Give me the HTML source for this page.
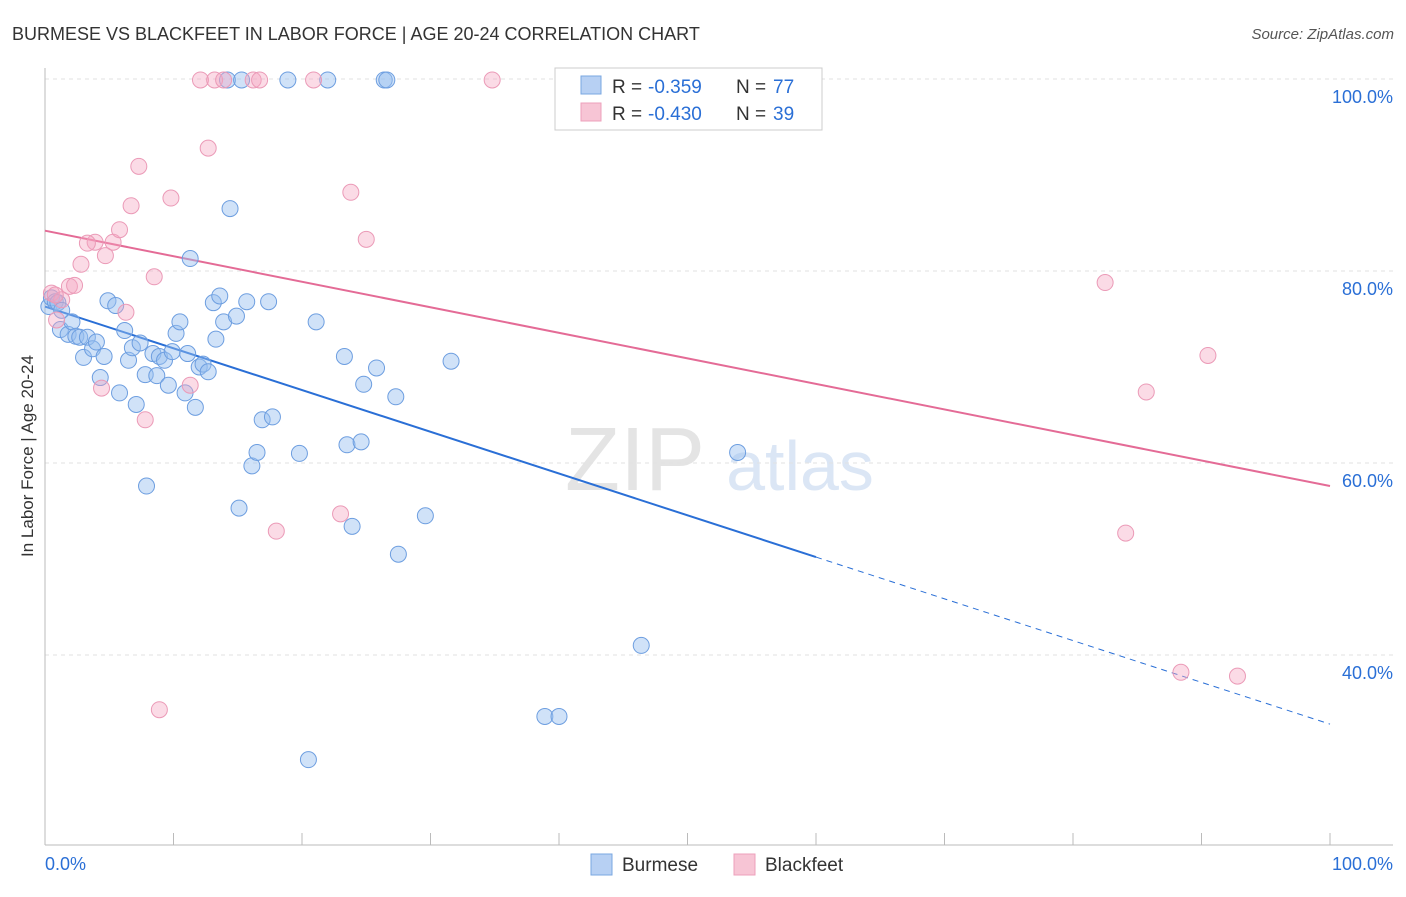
<!DOCTYPE html>
<html><head><meta charset="utf-8"><style>
body{margin:0;background:#fff;font-family:"Liberation Sans",sans-serif;}
svg text{font-family:"Liberation Sans",sans-serif;}
</style></head><body>
<svg id="chart" width="1406" height="892" xmlns="http://www.w3.org/2000/svg">
<text x="12" y="40" font-size="18" fill="#333">BURMESE VS BLACKFEET IN LABOR FORCE | AGE 20-24 CORRELATION CHART</text>
<text x="1394" y="39" font-size="15" fill="#555" font-style="italic" text-anchor="end">Source: ZipAtlas.com</text>
<text transform="translate(33,456) rotate(-90)" font-size="17" fill="#333" text-anchor="middle">In Labor Force | Age 20-24</text>
<g><text x="635" y="490" font-size="90" fill="#e4e4e4" font-family="Liberation Serif" text-anchor="middle">ZIP</text><text x="800" y="490" font-size="70" fill="#dbe6f5" text-anchor="middle">atlas</text></g>
<g id="grid"></g><g id="axes"></g><g id="lines"></g><g id="pts"></g>
<g>
<rect x="555" y="68" width="267" height="62" fill="#fff" stroke="#ccc"/>
<rect x="581" y="76" width="20" height="18" fill="#b7d0f3" stroke="#7aa7e0"/>
<rect x="581" y="103" width="20" height="18" fill="#f7c5d5" stroke="#eea0bb"/>
<text x="612" y="93" font-size="19" fill="#333">R = </text><text x="648" y="93" font-size="19" fill="#2a6fd6">-0.359</text>
<text x="736" y="93" font-size="19" fill="#333">N = </text><text x="773" y="93" font-size="19" fill="#2a6fd6">77</text>
<text x="612" y="120" font-size="19" fill="#333">R = </text><text x="648" y="120" font-size="19" fill="#2a6fd6">-0.430</text>
<text x="736" y="120" font-size="19" fill="#333">N = </text><text x="773" y="120" font-size="19" fill="#2a6fd6">39</text>
</g>
<g>
<rect x="591" y="854" width="21" height="21" fill="#b7d0f3" stroke="#7aa7e0"/><text x="622" y="871" font-size="19" fill="#333">Burmese</text>
<rect x="734" y="854" width="21" height="21" fill="#f7c5d5" stroke="#eea0bb"/><text x="765" y="871" font-size="19" fill="#333">Blackfeet</text>
</g>
<text x="45" y="870" font-size="18" fill="#2a6fd6">0.0%</text>
<text x="1393" y="870" font-size="18" fill="#2a6fd6" text-anchor="end">100.0%</text>
</svg>
<script>
const yTicks=[100,80,60,40];
const burmeseX=[0.3,0.5,0.8,1.0,1.3,1.2,1.8,2.1,2.4,2.7,3.0,3.3,3.7,4.0,4.3,4.6,4.9,5.5,5.8,6.2,6.5,6.8,7.1,7.4,7.8,7.9,8.4,8.7,8.9,9.3,9.6,9.9,10.2,10.5,10.9,11.1,11.3,11.7,12.0,12.3,12.7,13.1,13.3,13.6,13.9,14.4,14.9,15.1,15.7,16.1,16.5,16.9,17.4,17.7,19.8,21.1,23.3,23.5,23.9,24.6,24.8,25.8,27.3,27.5,29.6,31.6,20.5,38.9,40.0,46.4,53.9,14.2,15.3,18.9,22.0,26.4,26.6];
const burmeseY=[76.3,77.2,76.8,76.7,75.9,73.9,73.4,74.7,73.2,73.1,71.0,73.1,71.9,72.6,68.9,71.1,76.9,76.4,67.3,73.8,70.7,72.0,66.1,72.5,69.2,57.6,71.4,69.1,71.1,70.7,68.1,71.6,73.5,74.7,67.3,71.4,81.3,65.8,70.0,70.3,69.5,76.7,72.9,77.4,74.7,86.5,75.3,55.3,76.8,59.7,61.1,64.5,76.8,64.8,61.0,74.7,71.1,61.9,53.4,62.2,68.2,69.9,66.9,50.5,54.5,70.6,29.1,33.6,33.6,41.0,61.1,99.9,99.9,99.9,99.9,99.9,99.9];
const blackX=[0.5,0.9,1.3,1.9,2.3,2.8,3.9,4.4,4.7,5.3,5.8,6.3,6.7,7.3,7.8,8.5,8.9,9.8,11.3,12.7,12.1,13.2,13.9,16.2,16.7,18.0,20.9,23.0,23.8,25.0,34.8,82.5,85.7,90.5,84.1,88.4,92.8,3.3,0.8];
const blackY=[77.7,74.9,77.0,78.4,78.5,80.7,83.0,67.8,81.6,83.0,84.3,75.7,86.8,90.9,64.5,79.4,34.3,87.6,68.1,92.8,99.9,99.9,99.9,99.9,99.9,52.9,99.9,54.7,88.2,83.3,99.9,78.8,67.4,71.2,52.7,38.2,37.8,82.9,77.5];
const burmeseTrend=[76.3,32.8];
const blackTrend=[84.2,57.6];
const burmeseSolidEnd=60;
const NS='http://www.w3.org/2000/svg';
const X=v=>45+v*12.85, Y=v=>79+(100-v)*9.6;
function mk(t,a,p){const e=document.createElementNS(NS,t);for(const k in a)e.setAttribute(k,a[k]);p.appendChild(e);return e;}
const grid=document.getElementById('grid');
yTicks.forEach(t=>{
 const l=mk('line',{x1:45,x2:1393,y1:Y(t),y2:Y(t),stroke:'#e2e2e2','stroke-dasharray':'4,4'},grid);
 
 
 const tx=mk('text',{x:1393,y:Y(t)+24,'font-size':18,fill:'#2a6fd6','text-anchor':'end'},grid);
 tx.textContent=t.toFixed(1)+'%';
 
 
});
const ax=document.getElementById('axes');
mk('line',{x1:45,x2:45,y1:68,y2:845,stroke:'#bbb'},ax);
mk('line',{x1:45,x2:1393,y1:845,y2:845,stroke:'#bbb'},ax);
for(let i=1;i<=10;i++){mk('line',{x1:X(i*10),x2:X(i*10),y1:833,y2:845,stroke:'#bbb'},ax);}
const ln=document.getElementById('lines');
const by=x=>burmeseTrend[0]+(burmeseTrend[1]-burmeseTrend[0])*x/100;
const b1=mk('line',{x1:X(0),y1:Y(by(0)),x2:X(burmeseSolidEnd),y2:Y(by(burmeseSolidEnd)),stroke:'#2a6fd6','stroke-width':2},ln);


const b2=mk('line',{x1:X(burmeseSolidEnd),y1:Y(by(burmeseSolidEnd)),x2:X(100),y2:Y(by(100)),stroke:'#2a6fd6','stroke-width':1,'stroke-dasharray':'6,5'},ln);


const p1=mk('line',{x1:X(0),y1:Y(blackTrend[0]),x2:X(100),y2:Y(blackTrend[1]),stroke:'#e46b96','stroke-width':2},ln);


const pts=document.getElementById('pts');
burmeseX.forEach((x,i)=>{const c=mk('circle',{cx:X(x),cy:Y(burmeseY[i]),r:8,fill:'rgba(150,190,240,0.45)',stroke:'#6d9ee0','stroke-width':1},pts);
 
 });
blackX.forEach((x,i)=>{const c=mk('circle',{cx:X(x),cy:Y(blackY[i]),r:8,fill:'rgba(245,165,192,0.4)',stroke:'#eb9ab7','stroke-width':1},pts);
 
 });
</script>
</body></html>
